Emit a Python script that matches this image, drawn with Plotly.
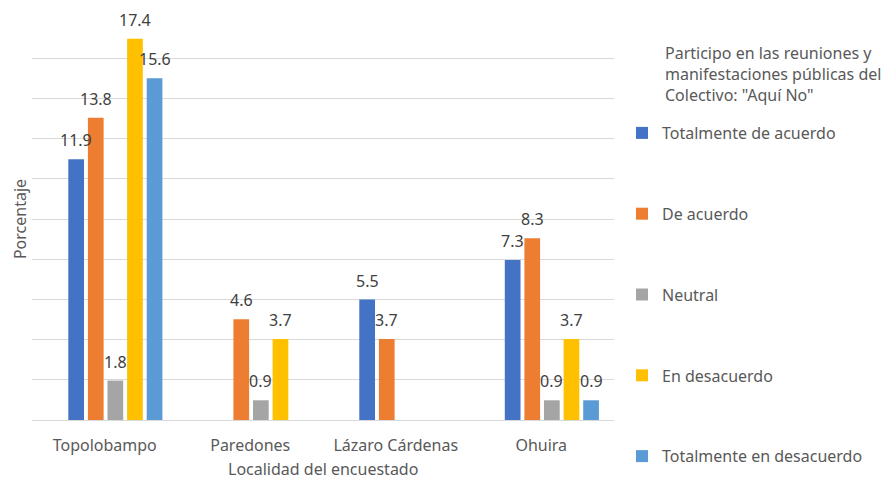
import plotly.graph_objects as go

# Survey results by locality (percent of respondents)
localidades = ["Topolobampo", "Paredones", "Lázaro Cárdenas", "Ohuira"]
series_names = [
    "Totalmente de acuerdo",
    "De acuerdo",
    "Neutral",
    "En desacuerdo",
    "Totalmente en desacuerdo",
]
totalmente_de_acuerdo = [11.9, None, 5.5, 7.3]
de_acuerdo = [13.8, 4.6, 3.7, 8.3]
neutral = [1.8, 0.9, None, 0.9]
en_desacuerdo = [17.4, 3.7, None, 3.7]
totalmente_en_desacuerdo = [15.6, None, None, 0.9]
series_values = [
    totalmente_de_acuerdo,
    de_acuerdo,
    neutral,
    en_desacuerdo,
    totalmente_en_desacuerdo,
]
colors = ["#4472C4", "#ED7D31", "#A5A5A5", "#FFC000", "#5B9BD5"]

legend_title = 'Participo en las reuniones y<br>manifestaciones públicas del<br>Colectivo: "Aquí No"'
x_title = "Localidad del encuestado"
y_title = "Porcentaje"

# 109 respondents; gridlines every 2 respondents, axis up to 20
N_RESP = 109
y_max = 20 * 100 / N_RESP
y_step = 2 * 100 / N_RESP

FONT = "Noto Sans"
TEXT_COLOR = "#595959"
LABEL_COLOR = "#404040"

# plot area in pixels (for placing the legend block and axis title)
W, H = 885, 482
L, R, T, B = 32, 271, 18, 62
plot_w = W - L - R
plot_h = H - T - B

# bar geometry in category units (one empty slot ahead of the first series)
bar_w = 0.108
pitch = 0.1347
first_offset = -0.2505

fig = go.Figure()
for k, (name, vals, col) in enumerate(zip(series_names, series_values, colors)):
    off = first_offset + k * pitch
    fig.add_trace(go.Bar(
        x=localidades,
        y=vals,
        name=name,
        marker=dict(color=col, line=dict(width=0)),
        width=bar_w,
        offset=off,
        legendgroup=name,
    ))
    for i, v in enumerate(vals):
        if v is None:
            continue
        fig.add_annotation(
            x=i + off + bar_w / 2, y=v, xref="x", yref="y",
            text=f"{v}", showarrow=False, yanchor="bottom",
            yshift=6,
            font=dict(family=FONT, size=16, color=LABEL_COLOR),
        )

# legend heading
fig.add_annotation(
    x=(663 - L) / plot_w, y=(H - B - 40) / plot_h, xref="paper", yref="paper",
    text=legend_title, showarrow=False, align="left",
    xanchor="left", yanchor="top",
    font=dict(family=FONT, size=16, color=TEXT_COLOR),
)

# horizontal axis title, sitting low in the bottom margin
fig.add_annotation(
    x=0.5, y=-(469 - (H - B)) / plot_h, xref="paper", yref="paper",
    text=x_title, showarrow=False,
    xanchor="center", yanchor="middle",
    font=dict(family=FONT, size=16, color=TEXT_COLOR),
)

fig.update_layout(
    width=W, height=H,
    margin=dict(l=L, r=R, t=T, b=B, autoexpand=False),
    paper_bgcolor="white", plot_bgcolor="white",
    barmode="group",
    font=dict(family=FONT, size=16, color=TEXT_COLOR),
    showlegend=True,
    legend=dict(
        x=1 + 8 / plot_w, xanchor="left",
        y=(H - B - 116) / plot_h, yanchor="top",
        traceorder="grouped", tracegroupgap=57,
        font=dict(family=FONT, size=16, color=TEXT_COLOR),
        itemwidth=30,
    ),
    xaxis=dict(
        type="category",
        range=[-0.5, 3.5],
        automargin=False,
        showline=True, linecolor="#d9d9d9", linewidth=1,
        ticks="", showgrid=False,
        ticklabelstandoff=11,
        tickfont=dict(family=FONT, size=16, color=TEXT_COLOR),
    ),
    yaxis=dict(
        range=[0, y_max],
        automargin=False,
        tick0=0, dtick=y_step,
        showgrid=True, gridcolor="#d9d9d9", gridwidth=1,
        showticklabels=False, zeroline=False,
        title=dict(text=y_title,
                   font=dict(family=FONT, size=16, color=TEXT_COLOR),
                   standoff=0),
    ),
)

fig.write_html("out.html")
